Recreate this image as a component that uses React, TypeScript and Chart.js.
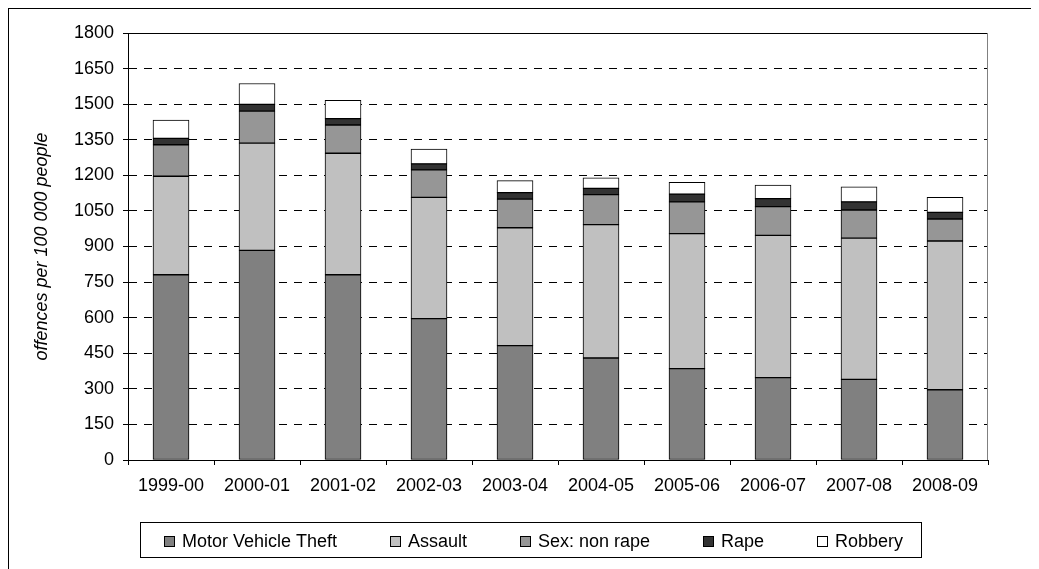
import React, { useEffect, useRef } from "react";
import { Chart, registerables } from "chart.js";

Chart.register(...registerables);

const categories = ["1999-00", "2000-01", "2001-02", "2002-03", "2003-04", "2004-05", "2005-06", "2006-07", "2007-08", "2008-09"];
const motorVehicleTheft = [781, 884, 781, 596, 482, 430, 385, 347, 340, 296];
const assault = [415, 452, 512, 511, 497, 562, 569, 600, 595, 627];
const sexNonRape = [133, 135, 119, 116, 121, 127, 134, 121, 119, 93];
const rape = [27, 28, 27, 25, 27, 26, 33, 34, 34, 28];
const robbery = [77, 88, 77, 63, 51, 45, 50, 57, 64, 63];
const seriesLabels = ["Motor Vehicle Theft", "Assault", "Sex: non rape", "Rape", "Robbery"];
const seriesColors = ["#808080", "#c0c0c0", "#969696", "#333333", "#ffffff"];
const yMin = 0;
const yMax = 1800;
const yStep = 150;
const yTitle = "offences per 100 000 people";

const FONT = '"Liberation Sans", Arial, sans-serif';
const FONT_SIZE = 18;

const framePlugin = {
  id: "frame",
  beforeDatasetsDraw(chart: any) {
    const { ctx, chartArea } = chart;
    ctx.save();
    ctx.lineWidth = 1;
    ctx.setLineDash([]);
    ctx.strokeStyle = "#000";
    ctx.beginPath();
    ctx.moveTo(chartArea.left, chartArea.top + 0.5);
    ctx.lineTo(chartArea.right, chartArea.top + 0.5);
    ctx.stroke();
    ctx.strokeStyle = "#808080";
    ctx.beginPath();
    ctx.moveTo(chartArea.right - 0.5, chartArea.top);
    ctx.lineTo(chartArea.right - 0.5, chartArea.bottom);
    ctx.stroke();
    ctx.restore();
  },
};

const legendPlugin = {
  id: "boxLegend",
  afterDraw(chart: any) {
    const ctx = chart.ctx;
    ctx.save();
    ctx.font = `${FONT_SIZE}px ${FONT}`;
    const boxLeft = 131;
    const boxTop = 513;
    const boxH = 35;
    const marker = 11;
    const textGap = 18;
    const itemGap = 53;
    const items = chart.data.datasets.map((ds: any) => ({ label: ds.label, color: ds.backgroundColor }));
    let total = 24;
    items.forEach((it: any, i: number) => {
      total += textGap + ctx.measureText(it.label).width + (i < items.length - 1 ? itemGap : 18);
    });
    ctx.strokeStyle = "#000";
    ctx.lineWidth = 1;
    ctx.strokeRect(boxLeft + 0.5, boxTop + 0.5, Math.round(total), boxH);
    let x = boxLeft + 24;
    items.forEach((it: any) => {
      const my = boxTop + 14;
      ctx.fillStyle = it.color;
      ctx.fillRect(x, my, marker, marker);
      ctx.strokeStyle = "#000";
      ctx.strokeRect(x + 0.5, my + 0.5, marker - 1, marker - 1);
      ctx.fillStyle = "#000";
      ctx.textBaseline = "alphabetic";
      ctx.textAlign = "left";
      ctx.fillText(it.label, x + textGap, boxTop + 25);
      x = Math.round(x + textGap + ctx.measureText(it.label).width + itemGap);
    });
    ctx.restore();
  },
};

export default function App() {
  const canvasRef = useRef<HTMLCanvasElement | null>(null);

  useEffect(() => {
    if (!canvasRef.current) return;
    const series = [motorVehicleTheft, assault, sexNonRape, rape, robbery];
    const chart = new Chart(canvasRef.current, {
      type: "bar",
      data: {
        labels: categories,
        datasets: series.map((data, i) => ({
          label: seriesLabels[i],
          data,
          backgroundColor: seriesColors[i],
          borderColor: "#000",
          borderWidth: 1,
          borderSkipped: false,
          barThickness: 36,
        })),
      },
      options: {
        responsive: false,
        animation: false,
        layout: { padding: { left: 0, right: 51, top: 24, bottom: 59 } },
        plugins: { legend: { display: false }, tooltip: { enabled: false } },
        scales: {
          x: {
            stacked: true,
            afterFit: (s: any) => { s.height = 50; },
            grid: { drawOnChartArea: false, color: "#000", tickLength: 5, offset: true },
            border: { color: "#000", width: 1 },
            ticks: { color: "#000", font: { family: FONT, size: FONT_SIZE }, padding: 10, maxRotation: 0 },
          },
          y: {
            stacked: true,
            min: yMin,
            max: yMax,
            afterFit: (s: any) => { s.width = 119; },
            grid: { color: "#000", tickColor: "#000", tickLength: 5, tickBorderDash: [] },
            border: { color: "#000", width: 1, dash: [8, 7] },
            ticks: {
              stepSize: yStep,
              color: "#000",
              font: { family: FONT, size: FONT_SIZE },
              padding: 9,
              callback: (v: any) => String(v),
            },
            title: {
              display: true,
              text: yTitle,
              color: "#000",
              font: { family: FONT, size: FONT_SIZE, style: "italic" },
              padding: { top: 22, bottom: 0 },
            },
          },
        },
      },
      plugins: [framePlugin, legendPlugin],
    });
    return () => chart.destroy();
  }, []);

  return (
    <div
      style={{
        position: "relative",
        width: 1031,
        height: 561,
        borderTop: "1px solid #000",
        borderLeft: "1px solid #000",
        boxSizing: "border-box",
        overflow: "hidden",
      }}
    >
      <canvas ref={canvasRef} width={1030} height={560} style={{ display: "block", width: 1030, height: 560 }} />
    </div>
  );
}
